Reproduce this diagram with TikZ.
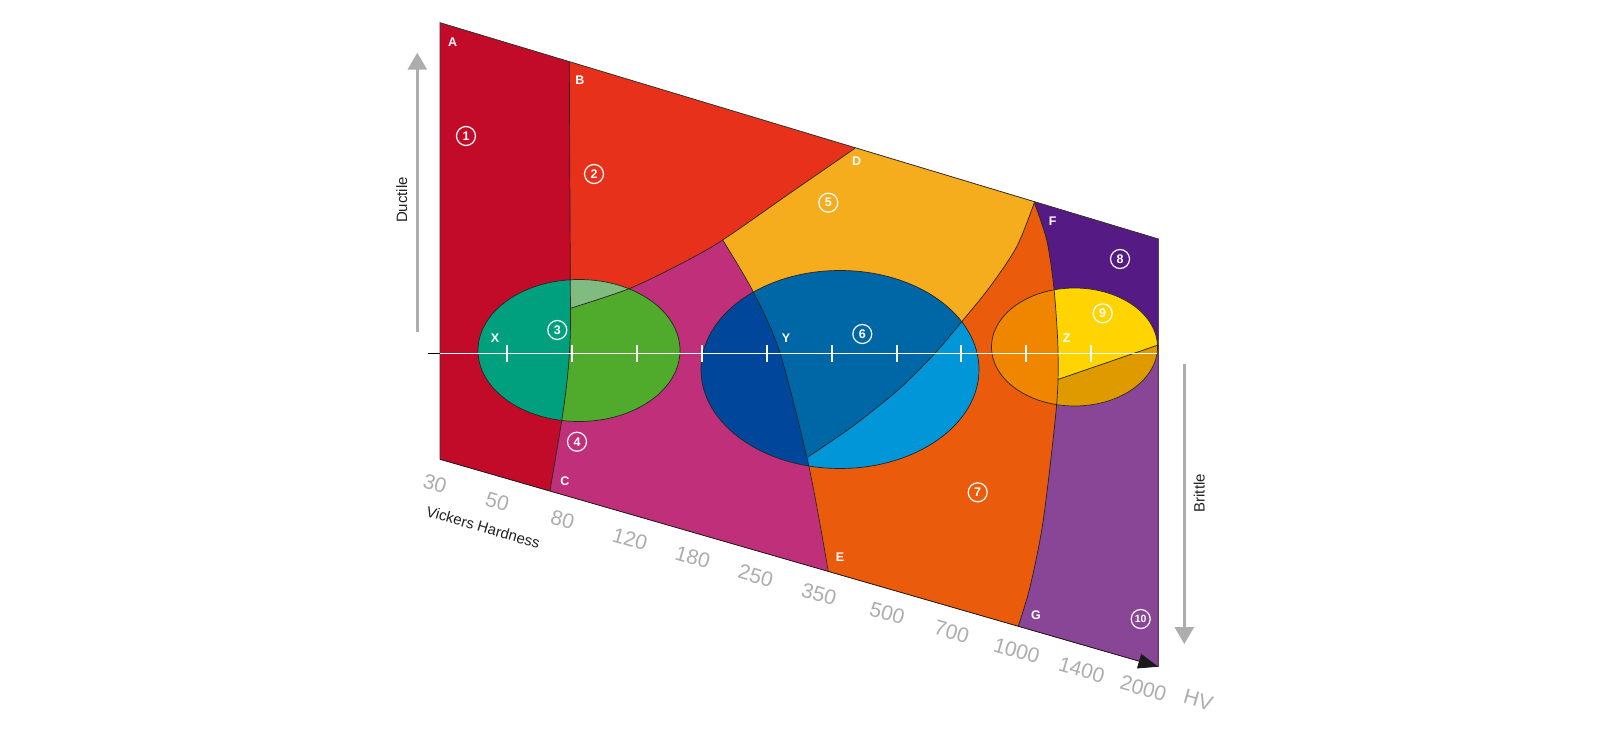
\documentclass[tikz,border=0pt]{standalone}
\usepackage{fontspec}
\setsansfont{Liberation Sans}
\usetikzlibrary{arrows.meta}
\definecolor{cRone}{HTML}{C20B28}
\definecolor{cRtwo}{HTML}{E8311B}
\definecolor{cRfour}{HTML}{C02F79}
\definecolor{cRfive}{HTML}{F6AD1D}
\definecolor{cRseven}{HTML}{EA5B0B}
\definecolor{cReight}{HTML}{551A84}
\definecolor{cRten}{HTML}{894697}
\definecolor{cTeal}{HTML}{009F7E}
\definecolor{cGreen}{HTML}{50AA2B}
\definecolor{cLgreen}{HTML}{82BB7F}
\definecolor{cNavy}{HTML}{00479B}
\definecolor{cMblue}{HTML}{0067A7}
\definecolor{cLblue}{HTML}{0096D8}
\definecolor{cZor}{HTML}{F08500}
\definecolor{cYel}{HTML}{FFD400}
\definecolor{cGold}{HTML}{DF9A00}
\definecolor{axgray}{HTML}{ADADAD}
\definecolor{txtdark}{HTML}{222222}
\begin{document}
\begin{tikzpicture}[x=1pt,y=-1pt,
  lett/.style={text=white,font=\sffamily\bfseries\fontsize{12.5}{13}\selectfont,inner sep=0pt},
  num/.style={circle,draw=white,line width=1.2pt,text=white,font=\sffamily\bfseries\fontsize{12.5}{12.5}\selectfont,minimum size=19pt,inner sep=0pt},
  numsmall/.style={num,font=\sffamily\bfseries\fontsize{10.5}{10.5}\selectfont},
  bd/.style={draw=black!85,line width=0.7pt},
  hvlab/.style={text=axgray,font=\sffamily\fontsize{21}{21}\selectfont,rotate=-16.1,inner sep=0pt},
  sidelab/.style={text=txtdark,font=\sffamily\fontsize{15}{15}\selectfont,rotate=90,inner sep=0pt},
  grayarrow/.style={draw=axgray,line width=3pt,-{Triangle[width=19pt,length=17pt]}},
  tickmark/.style={draw=white,line width=1.6pt}
]
\fill[white] (0,0) rectangle (1600,730);
\useasboundingbox (0,0) rectangle (1600,730);

\coordinate (pA) at (440,22.7);
\coordinate (pTR) at (1158.3,239);
\coordinate (pBR) at (1158.3,666.7);
\coordinate (pBL) at (440,459.3);

\begin{scope}
\clip (pA) -- (pTR) -- (pBR) -- (pBL) -- cycle;
\fill[cRtwo] (0,0) rectangle (1600,730);
% magenta: below the X-D curve
\fill[cRfour] (500,308.3) -- plot[smooth] coordinates {(570.5,308.3) (630,288.3) (683.3,262.5) (722.7,240) (788.8,194) (855,148.3)} -- (880,110) -- (1300,110) -- (1300,720) -- (500,720) -- cycle;
\begin{scope}
\clip (500,308.3) -- plot[smooth] coordinates {(570.5,308.3) (630,288.3) (683.3,262.5) (722.7,240) (788.8,194) (855,148.3)} -- (880,110) -- (1300,110) -- (1300,720) -- (500,720) -- cycle;
\clip plot[smooth] coordinates {(722.7,240) (753.3,292) (780,353) (809,467) (828.3,571.7)} -- (834,720) -- (1300,720) -- (1300,0) -- (722.7,0) -- cycle;
\fill[cRfive] (0,0) rectangle (1600,730);
\fill[cRseven] (1040,150) -- plot[smooth] coordinates {(1034.3,202.7) (1016.7,246.7) (990,286.7) (961.7,321.7) (935,353.3) (900,388.3) (856.7,423.3) (823.3,446.7) (808.3,456.7)} -- (790,480) -- (790,720) -- (1300,720) -- (1300,150) -- cycle;
\end{scope}
% purple right of F-G
\fill[cReight] (1036,150) -- plot[smooth] coordinates {(1034.3,202.7) (1046.7,240) (1054,289) (1058,350) (1056.5,406) (1043.3,520) (1030,587) (1018.3,626)} -- (1005,700) -- (1300,700) -- (1300,150) -- cycle;
\begin{scope}
\clip (0,347) rectangle (1600,730);
\fill[cRten] (1036,150) -- plot[smooth] coordinates {(1034.3,202.7) (1046.7,240) (1054,289) (1058,350) (1056.5,406) (1043.3,520) (1030,587) (1018.3,626)} -- (1005,700) -- (1300,700) -- (1300,150) -- cycle;
\end{scope}
% crimson left of B-C
\fill[cRone] (0,0) -- (569.2,0) -- (569.3,61.7) -- (570.5,320) .. controls (570.5,380) and (560,430) .. (550,490.7) -- (545,521) -- (0,521) -- cycle;
\end{scope}

% ellipse X
\begin{scope}
\clip (579,350.5) ellipse [x radius=101pt, y radius=71pt];
\fill[cTeal] (400,250) rectangle (700,450);
\clip (569.2,0) -- (569.3,61.7) -- (570.5,320) .. controls (570.5,380) and (560,430) .. (550,490.7) -- (545,521) -- (1600,521) -- (1600,0) -- cycle;
\fill[cGreen] (400,250) rectangle (700,450);
\fill[cLgreen] (560,308.3) -- plot[smooth] coordinates {(570.5,308.3) (630,288.3) (683.3,262.5) (722.7,240) (788.8,194) (855,148.3)} -- (855,100) -- (560,100) -- cycle;
\end{scope}

% ellipse Y
\begin{scope}
\clip (840,369.5) ellipse [x radius=139pt, y radius=99pt];
\fill[cMblue] (690,260) rectangle (990,480);
\fill[cLblue] plot[smooth] coordinates {(1034.3,202.7) (1016.7,246.7) (990,286.7) (961.7,321.7) (935,353.3) (900,388.3) (856.7,423.3) (823.3,446.7) (808.3,456.7)} -- (808,500) -- (1100,500) -- (1100,150) -- cycle;
\fill[cNavy] plot[smooth] coordinates {(722.7,240) (753.3,292) (780,353) (809,467) (828.3,571.7)} -- (600,600) -- (600,200) -- (722.7,200) -- cycle;
\end{scope}

% ellipse Z
\begin{scope}
\clip (1074.5,347) ellipse [x radius=83pt, y radius=59pt];
\fill[cZor] (980,280) rectangle (1170,420);
\clip (1036,150) -- plot[smooth] coordinates {(1034.3,202.7) (1046.7,240) (1054,289) (1058,350) (1056.5,406) (1043.3,520) (1030,587) (1018.3,626)} -- (1005,700) -- (1300,700) -- (1300,150) -- cycle;
\fill[cYel] (980,280) rectangle (1170,420);
\fill[cGold] (1000,399.4) -- (1170,340.9) -- (1170,420) -- (1000,420) -- cycle;
\draw[bd] (1000,399.4) -- (1170,340.9);
\end{scope}

% boundary lines
\draw[bd] (569.3,61.7) -- (570.5,320) .. controls (570.5,380) and (560,430) .. (550,490.7);
\draw[bd] plot[smooth] coordinates {(570.5,308.3) (630,288.3) (683.3,262.5) (722.7,240) (788.8,194) (855,148.3)};
\draw[bd] plot[smooth] coordinates {(722.7,240) (753.3,292) (780,353) (809,467) (828.3,571.7)};
\draw[bd] plot[smooth] coordinates {(1034.3,202.7) (1016.7,246.7) (990,286.7) (961.7,321.7) (935,353.3) (900,388.3) (856.7,423.3) (823.3,446.7) (808.3,456.7)};
\draw[bd] plot[smooth] coordinates {(1034.3,202.7) (1046.7,240) (1054,289) (1058,350) (1056.5,406) (1043.3,520) (1030,587) (1018.3,626)};
\draw[bd] (579,350.5) ellipse [x radius=101pt, y radius=71pt];
\draw[bd] (840,369.5) ellipse [x radius=139pt, y radius=99pt];
\draw[bd] (1074.5,347) ellipse [x radius=83pt, y radius=59pt];

% outline
\draw[draw=black!80,line width=0.8pt] (pBL) -- (pA) -- (pTR) -- (pBR);
\draw[draw=black!90,line width=0.8pt,-{Triangle[width=15pt,length=20pt]}] (pBL) -- (pBR);

% horizontal axis
\coordinate (axL) at (428,353.3);
\coordinate (axM) at (440,353.3);
\coordinate (axR) at (1157,353.3);
\draw[draw=black,line width=0.9pt] (axL) -- (axM);
\draw[draw=white,line width=1.6pt] (axM) -- (axR);
\foreach \x in {507,572,637,702,767,832,897,961,1026,1091}
  \draw[tickmark] (\x,345) -- (\x,361.7);

% letters
\node[lett] (lA) at (452.7,42.3) {A};
\node[lett] (lB) at (580,80) {B};
\node[lett] (lC) at (565,481) {C};
\node[lett] (lD) at (856.7,161.7) {D};
\node[lett] (lE) at (840,557) {E};
\node[lett] (lF) at (1052.7,221) {F};
\node[lett] (lG) at (1036,615.5) {G};
\node[lett] (lX) at (495,337.7) {X};
\node[lett] (lY) at (786,338.3) {Y};
\node[lett] (lZ) at (1066.7,338.3) {Z};

% circled numbers
\node[num] (n1) at (466,136) {1};
\node[num] (n2) at (594,174) {2};
\node[num] (n3) at (557.3,330) {3};
\node[num] (n4) at (577,441.7) {4};
\node[num] (n5) at (828.3,202.7) {5};
\node[num] (n6) at (862.3,334) {6};
\node[num] (n7) at (977.7,492.3) {7};
\node[num] (n8) at (1120,259) {8};
\node[num] (n9) at (1102.7,313.3) {9};
\node[numsmall] (n10) at (1140.7,619) {10};

% hardness scale
\node[hvlab] (h1) at (435,483.3) {30};
\node[hvlab] (h2) at (497.3,501.7) {50};
\node[hvlab] (h3) at (562.7,520) {80};
\node[hvlab] (h4) at (630,539) {120};
\node[hvlab] (h5) at (692.7,557.3) {180};
\node[hvlab] (h6) at (755.7,575.7) {250};
\node[hvlab] (h7) at (819,594) {350};
\node[hvlab] (h8) at (887.3,613.3) {500};
\node[hvlab] (h9) at (951.7,631.7) {700};
\node[hvlab] (h10) at (1016.7,650.7) {1000};
\node[hvlab] (h11) at (1081.7,670) {1400};
\node[hvlab] (h12) at (1143.3,688.3) {2000};
\node[hvlab] (h13) at (1198.3,700) {HV};
\node[text=txtdark,font=\sffamily\fontsize{15}{15}\selectfont,rotate=-16.1,inner sep=0pt] (vh) at (483.3,527.3) {Vickers Hardness};

% ductile / brittle
\coordinate (dS) at (417.3,331.7);
\coordinate (dE) at (417.3,52.7);
\draw[grayarrow] (dS) -- (dE);
\node[sidelab] (duc) at (401.7,200) {Ductile};
\coordinate (bS) at (1184.3,364);
\coordinate (bE) at (1184.3,644);
\draw[grayarrow] (bS) -- (bE);
\node[sidelab] (bri) at (1199.3,493.3) {Brittle};
\end{tikzpicture}
\end{document}
